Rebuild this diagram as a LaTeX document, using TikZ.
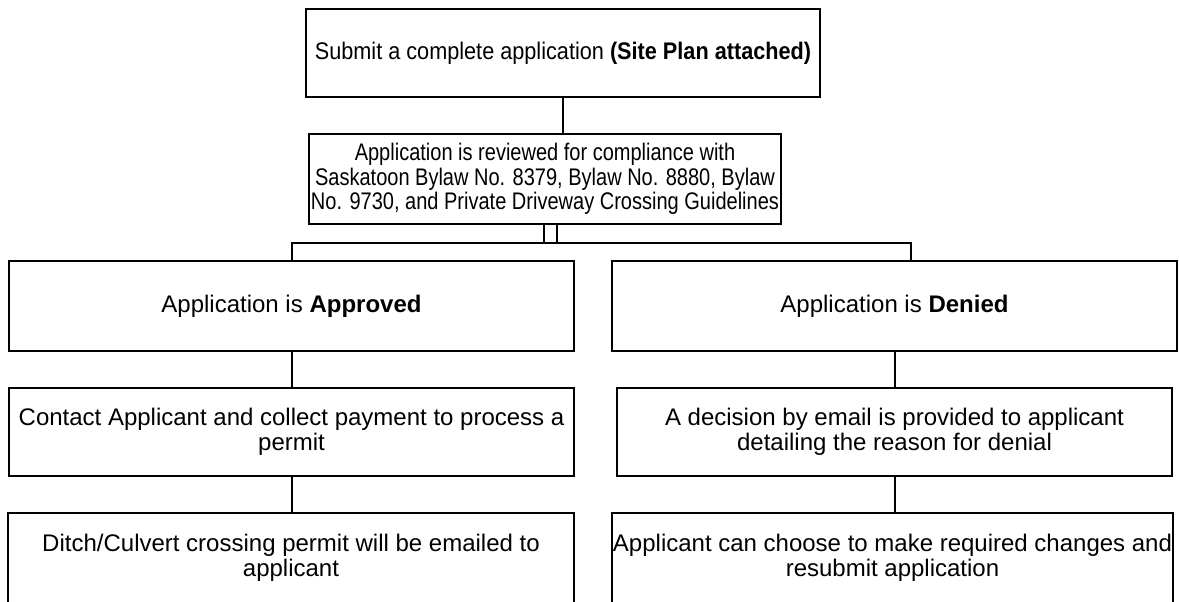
\documentclass[tikz,border=0pt]{standalone}
\usepackage{graphicx}
\usepackage{fontspec}
\setmainfont{Liberation Sans}
\usetikzlibrary{calc}
\newcommand{\squeeze}[2]{\scalebox{#1}[1]{#2}}
\tikzset{
  box/.style={draw=black, line width=1.5pt, rectangle, inner sep=0pt, outer sep=0pt,
    align=center, font=\fontsize{18}{18.5}\selectfont},
  link/.style={draw=black, line width=1.5pt}
}
\begin{document}
\begin{tikzpicture}[x=0.75pt,y=-0.75pt]
\clip (0,0) rectangle (1179,601);
\fill[white] (0,0) rectangle (1179,601);
\node[box, minimum width=385.5pt, minimum height=66pt] (submit) at (563,53)
  {\squeeze{0.903}{Submit a complete application \textbf{(Site Plan attached)}}};
\node[box, minimum width=354pt, minimum height=67.5pt] (review) at (545,179)
  {\squeeze{0.834}{Application is reviewed for compliance with}\\
   \squeeze{0.834}{Saskatoon Bylaw No. 8379, Bylaw No. 8880, Bylaw}\\
   \squeeze{0.834}{No. 9730, and Private Driveway Crossing Guidelines}};
\node[box, minimum width=423.75pt, minimum height=67.5pt] (approved) at (291.5,306)
  {Application is \textbf{Approved}};
\node[box, minimum width=423.75pt, minimum height=67.5pt] (denied) at (894.5,306)
  {Application is \textbf{Denied}};
\node[box, minimum width=423.75pt, minimum height=66pt] (contact) at (291.5,432)
  {Contact Applicant and collect payment to process a\\permit};
\node[box, minimum width=416.25pt, minimum height=66pt] (decision) at (894.5,432)
  {A decision by email is provided to applicant\\detailing the reason for denial};
\node[box, minimum width=424.5pt, minimum height=67.5pt] (ditch) at (291,558)
  {Ditch/Culvert crossing permit will be emailed to\\applicant};
\node[box, minimum width=420.75pt, minimum height=67.5pt] (resubmit) at (892.5,558)
  {Applicant can choose to make required changes and\\resubmit application};
\coordinate (dentap) at ($(denied.north)+(16.5,0)$);
\draw[link] (submit.south) -- (submit.south |- review.north);
\draw[link] ($(review.south)+(12,0)$) -- ++(0,19) -| (approved.north);
\draw[link] ($(review.south)+(-1,0)$) -- ++(0,19) -| (dentap);
\draw[link] (approved.south) -- (approved.south |- contact.north);
\draw[link] (denied.south) -- (denied.south |- decision.north);
\draw[link] (contact.south) -- (contact.south |- ditch.north);
\draw[link] (decision.south) -- (decision.south |- resubmit.north);
\end{tikzpicture}
\end{document}
